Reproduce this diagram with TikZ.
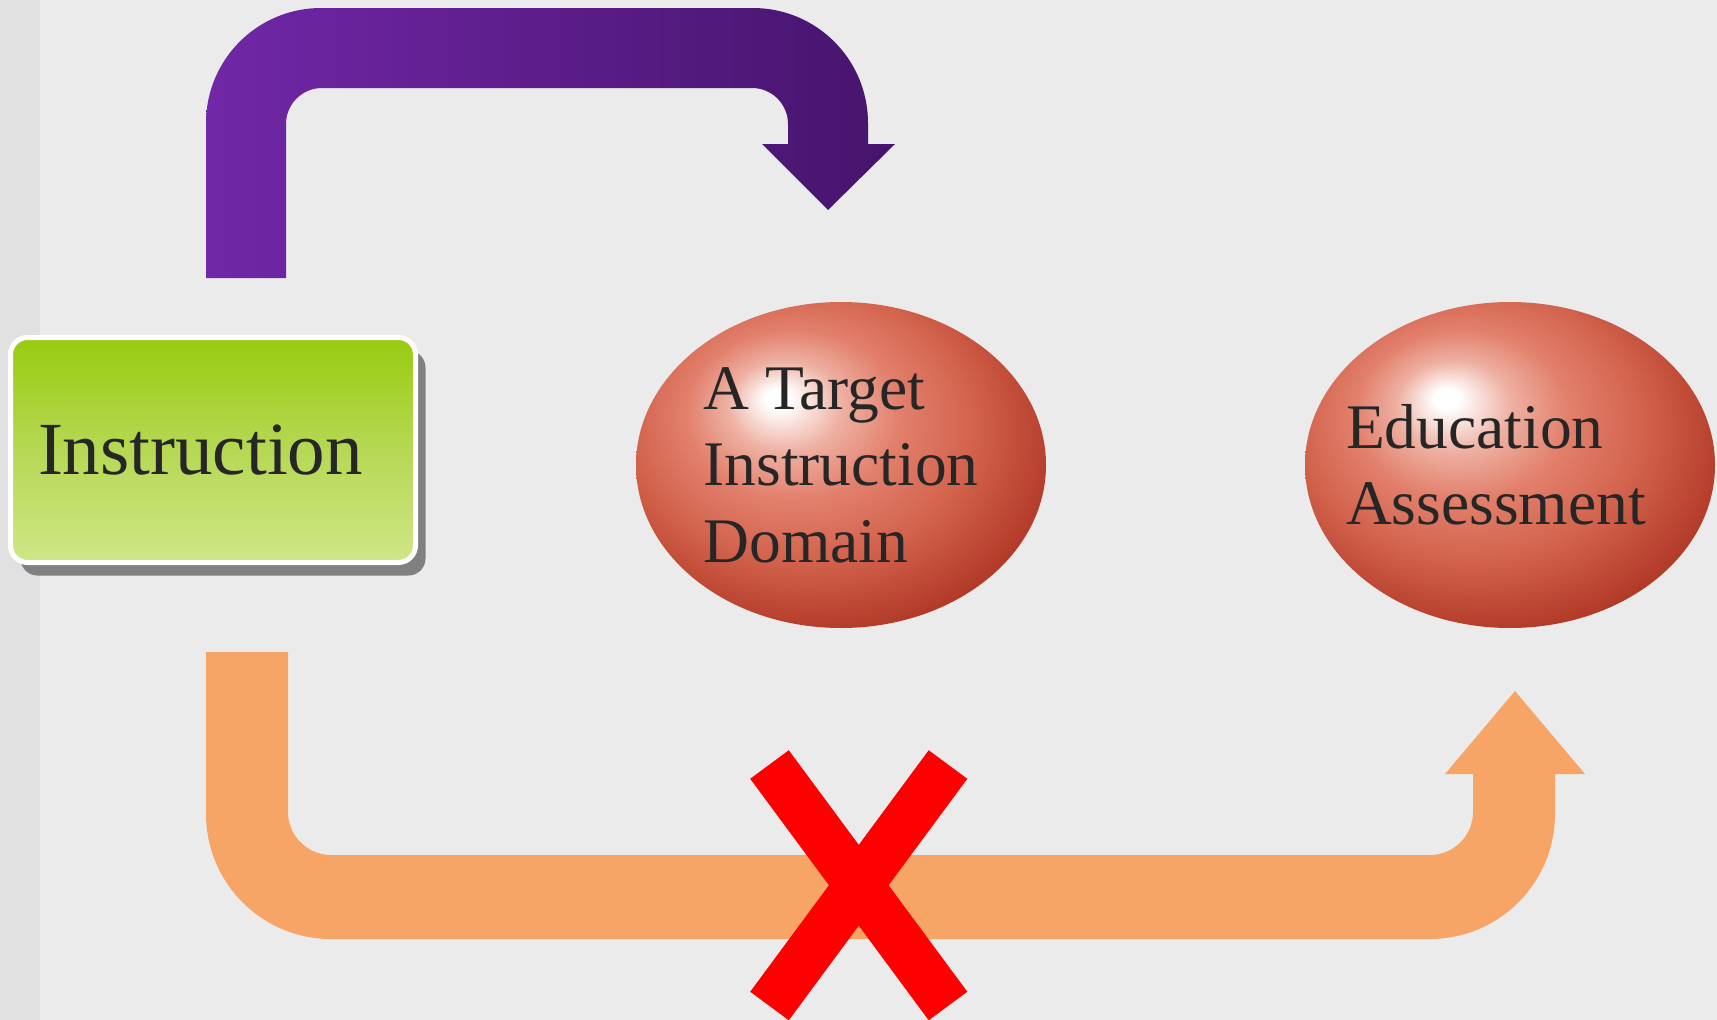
\documentclass[tikz,border=0pt]{standalone}
\usepackage{fontspec}
\setmainfont{Liberation Serif}
\usetikzlibrary{shapes.geometric,shadows}

\definecolor{bgmain}{RGB}{235,235,235}
\definecolor{bgstrip}{RGB}{225,225,225}
\definecolor{textdark}{RGB}{38,38,38}
\definecolor{purpleL}{RGB}{113,39,167}
\definecolor{purpleR}{RGB}{70,20,108}
\definecolor{arroworange}{RGB}{247,165,102}
\definecolor{greenTop}{RGB}{152,203,15}
\definecolor{greenMid}{RGB}{182,216,84}
\definecolor{greenBot}{RGB}{208,230,136}
\definecolor{shadowgray}{RGB}{128,128,128}
\definecolor{crossred}{RGB}{255,0,0}
\definecolor{glasspink}{RGB}{238,176,162}
\definecolor{glasslight}{RGB}{226,128,108}
\definecolor{glassmid}{RGB}{210,98,76}
\definecolor{glassdark}{RGB}{178,58,40}
\definecolor{glassrim}{RGB}{146,32,18}

% glossy red sphere, highlight towards the upper left
% (the shading square of +-25bp is stretched onto the ellipse)
\pgfdeclareradialshading{redglass}{\pgfpoint{-8bp}{10.5bp}}{%
  color(0bp)=(white); color(1.5bp)=(white); color(7bp)=(glasspink);
  color(13bp)=(glasslight); color(21bp)=(glassmid); color(30bp)=(glassdark);
  color(37bp)=(glassrim); color(50bp)=(glassrim)}

\begin{document}
\begin{tikzpicture}[x=1pt,y=-1pt,
  instrbox/.style={rectangle, rounded corners=17pt, draw=white, line width=5pt,
    top color=greenTop, bottom color=greenBot, middle color=greenMid,
    minimum width=405pt, minimum height=225pt, text width=350pt, align=left,
    inner xsep=0pt, inner ysep=0pt, text=textdark,
    font=\fontsize{75pt}{90pt}\selectfont,
    drop shadow={shadow xshift=10pt, shadow yshift=-13pt, fill=shadowgray, opacity=1}},
  glassball/.style={ellipse, shading=redglass,
    minimum width=410pt, minimum height=326pt, inner sep=0pt, align=left,
    text=textdark, font=\fontsize{63.5pt}{76.5pt}\selectfont},
  crossbar/.style={draw=crossred, line width=48pt, line cap=butt}]

\useasboundingbox (0,0) rectangle (1717,1020);

% backdrop
\fill[bgmain] (0,0) rectangle (1717,1020);
\fill[bgstrip] (0,0) rectangle (40,1020);

% purple bent arrow over the top
\shade[left color=purpleL, right color=purpleR]
  (206,278) -- (206,123) .. controls (206,59.5) and (257.5,8) .. (321,8)
  -- (753,8) .. controls (816.5,8) and (868,59.5) .. (868,123)
  -- (868,144) -- (895,144) -- (828,210) -- (762,144) -- (788,144)
  -- (788,124) .. controls (788,104.1) and (771.9,88) .. (752,88)
  -- (322,88) .. controls (302.1,88) and (286,104.1) .. (286,124)
  -- (286,278) -- cycle;

% orange bent arrow along the bottom
\fill[arroworange]
  (206,652) -- (206,814) .. controls (206,883) and (262,939) .. (331,939)
  -- (1430,939) .. controls (1499,939) and (1555,883) .. (1555,814)
  -- (1555,774) -- (1585,774) -- (1515,691) -- (1445,774) -- (1473,774)
  -- (1473,812) .. controls (1473,835.7) and (1453.7,855) .. (1430,855)
  -- (331,855) .. controls (307.3,855) and (288,835.7) .. (288,812)
  -- (288,652) -- cycle;

% nodes
\node[instrbox] (instr) at (213,450) {Instruction};
\node[glassball] (target) at (841,465) {A Target\\Instruction\\Domain};
\node[glassball, text width=328pt, inner xsep=-30pt] (assess) at (1510,465) {Education\\Assessment};

% red cross over the bottom arrow
\coordinate (xa) at (769.5,764.5);
\coordinate (xb) at (948,1006);
\coordinate (xc) at (948,764.5);
\coordinate (xd) at (769.5,1006);
\draw[crossbar] (xa) -- (xb);
\draw[crossbar] (xc) -- (xd);
\end{tikzpicture}
\end{document}
